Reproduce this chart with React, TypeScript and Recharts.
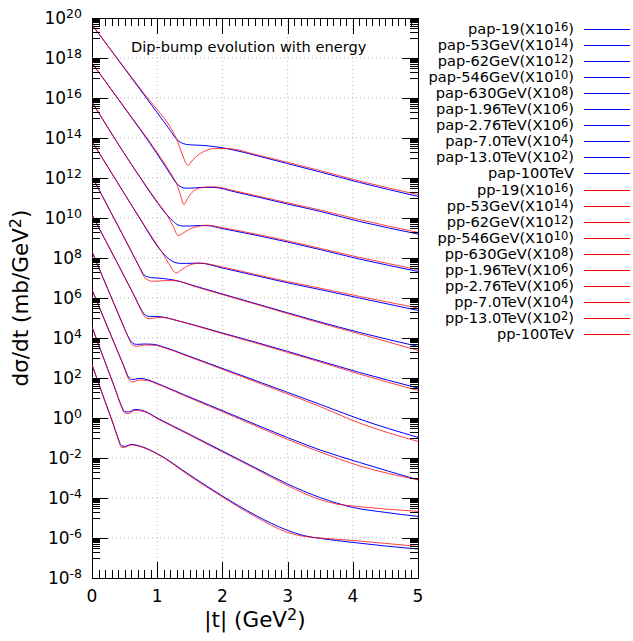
import React from 'react';
import { LineChart, Line, XAxis, YAxis, ReferenceLine, ReferenceArea } from 'recharts';

const W = 633;
const H = 641;
const PLOT = { left: 92, top: 18, width: 326, height: 560 };
const FONT = '"DejaVu Sans", Verdana, sans-serif';
const BLUE = '#0000ff';
const RED = '#ff0000';

// beam energies and the power of ten each pair was shifted by
const energies = ['19', '53GeV', '62GeV', '546GeV', '630GeV', '1.96TeV', '2.76TeV', '7.0TeV', '13.0TeV', '100TeV'];
const factors = ['16', '14', '12', '10', '8', '6', '6', '4', '2', ''];

// y values are log10(dσ/dt); pap = antiproton-proton, pp = proton-proton
const t19 = [0, 0.5, 0.8, 1.0, 1.2, 1.3, 1.4, 1.47, 1.55, 1.7, 1.9, 2.1, 2.5, 3.0, 3.5, 4.1, 5.0];
const pap19 = [19.67, 17.47, 16.15, 15.27, 14.38, 13.93, 13.72, 13.67, 13.65, 13.63, 13.56, 13.45, 13.14, 12.72, 12.3, 11.78, 11.08];
const pp19 = [19.67, 17.5, 16.22, 15.42, 14.55, 13.92, 13.05, 12.63, 12.92, 13.3, 13.48, 13.47, 13.18, 12.78, 12.37, 11.85, 11.17];

const t53 = [0, 0.5, 1.0, 1.2, 1.3, 1.35, 1.41, 1.47, 1.55, 1.7, 1.86, 2.2, 2.5, 3.0, 3.5, 4.1, 5.0];
const pap53 = [17.75, 15.5, 13.2, 12.2, 11.72, 11.58, 11.5, 11.49, 11.5, 11.53, 11.53, 11.3, 11.08, 10.7, 10.33, 9.83, 9.2];
const pp53 = [17.75, 15.52, 13.27, 12.27, 11.7, 11.22, 10.67, 11.0, 11.33, 11.53, 11.56, 11.35, 11.13, 10.76, 10.4, 9.92, 9.28];

const t62 = [0, 0.5, 0.8, 1.0, 1.15, 1.25, 1.32, 1.4, 1.5, 1.6, 1.76, 2.0, 2.5, 3.0, 3.5, 4.1, 5.0];
const pap62 = [15.8, 13.2, 11.72, 10.78, 10.15, 9.82, 9.65, 9.6, 9.6, 9.62, 9.62, 9.47, 9.15, 8.8, 8.42, 7.95, 7.33];
const pp62 = [15.8, 13.2, 11.75, 10.82, 10.15, 9.55, 9.12, 9.25, 9.45, 9.56, 9.64, 9.52, 9.2, 8.86, 8.48, 8.03, 7.42];

const t546 = [0, 0.5, 0.8, 1.0, 1.1, 1.2, 1.29, 1.36, 1.45, 1.55, 1.65, 2.0, 2.5, 3.0, 3.5, 4.1, 5.0];
const pap546 = [13.83, 11.2, 9.62, 8.6, 8.2, 7.9, 7.76, 7.73, 7.73, 7.74, 7.74, 7.5, 7.13, 6.76, 6.42, 6.0, 5.38];
const pp546 = [13.83, 11.2, 9.65, 8.65, 8.15, 7.6, 7.25, 7.38, 7.58, 7.7, 7.75, 7.55, 7.18, 6.82, 6.49, 6.08, 5.5];

const t630 = [0, 0.4, 0.6, 0.7, 0.76, 0.8, 0.86, 0.91, 1.0, 1.1, 1.25, 1.6, 2.0, 2.5, 3.0, 3.5, 4.1, 5.0];
const pap630 = [12.08, 9.6, 8.35, 7.72, 7.35, 7.15, 7.05, 7.02, 7.0, 6.97, 6.9, 6.58, 6.2, 5.73, 5.26, 4.8, 4.28, 3.58];
const pp630 = [12.08, 9.6, 8.35, 7.72, 7.3, 7.05, 6.9, 6.84, 6.84, 6.87, 6.87, 6.55, 6.17, 5.7, 5.22, 4.75, 4.21, 3.38];

const t196 = [0, 0.3, 0.5, 0.65, 0.75, 0.8, 0.88, 1.0, 1.1, 1.25, 1.6, 2.0, 2.5, 3.0, 3.5, 4.1, 5.0];
const pap196 = [10.17, 8.3, 7.05, 6.1, 5.45, 5.2, 5.08, 5.08, 5.04, 4.92, 4.62, 4.25, 3.8, 3.33, 2.85, 2.28, 1.5];
const pp196 = [10.17, 8.3, 7.05, 6.1, 5.4, 5.1, 4.96, 5.02, 5.02, 4.92, 4.6, 4.22, 3.76, 3.28, 2.8, 2.2, 1.38];

const t276 = [0, 0.3, 0.45, 0.55, 0.62, 0.68, 0.8, 0.95, 1.1, 1.4, 1.8, 2.2, 2.6, 3.0, 3.5, 4.1, 5.0];
const pap276 = [8.33, 6.0, 4.85, 4.1, 3.75, 3.68, 3.7, 3.68, 3.55, 3.2, 2.72, 2.24, 1.76, 1.28, 0.68, -0.05, -0.97];
const pp276 = [8.33, 6.0, 4.85, 4.08, 3.65, 3.58, 3.65, 3.64, 3.52, 3.17, 2.68, 2.19, 1.7, 1.2, 0.57, -0.25, -1.17];

const t7 = [0, 0.25, 0.4, 0.5, 0.56, 0.62, 0.72, 0.85, 1.0, 1.4, 1.8, 2.2, 2.6, 3.0, 3.5, 4.1, 5.0];
const pap7 = [6.42, 4.45, 3.28, 2.5, 2.05, 1.92, 1.98, 1.92, 1.73, 1.18, 0.64, 0.1, -0.45, -0.98, -1.6, -2.22, -3.09];
const pp7 = [6.42, 4.45, 3.28, 2.48, 1.95, 1.8, 1.9, 1.87, 1.7, 1.14, 0.59, 0.04, -0.52, -1.07, -1.7, -2.39, -3.09];

const t13 = [0, 0.2, 0.35, 0.45, 0.5, 0.56, 0.66, 0.8, 1.0, 1.5, 2.0, 2.5, 3.0, 3.5, 3.75, 4.0, 4.5, 5.0];
const pap13 = [4.55, 2.8, 1.5, 0.62, 0.33, 0.3, 0.43, 0.35, 0.0, -0.82, -1.65, -2.48, -3.3, -3.98, -4.25, -4.47, -4.72, -4.92];
const pp13 = [4.55, 2.8, 1.5, 0.57, 0.25, 0.22, 0.38, 0.32, -0.03, -0.86, -1.7, -2.53, -3.38, -4.08, -4.3, -4.4, -4.55, -4.67];

const t100 = [0, 0.2, 0.32, 0.4, 0.45, 0.5, 0.6, 0.75, 1.0, 1.5, 2.0, 2.5, 3.0, 3.25, 3.5, 4.0, 4.5, 5.0];
const pap100 = [2.67, 0.83, -0.25, -1.0, -1.38, -1.42, -1.32, -1.42, -1.78, -2.85, -3.9, -4.85, -5.62, -5.88, -6.02, -6.22, -6.4, -6.55];
const pp100 = [2.67, 0.83, -0.25, -1.05, -1.47, -1.47, -1.35, -1.44, -1.8, -2.9, -3.95, -4.92, -5.72, -5.92, -6.0, -6.12, -6.27, -6.42];

// tick values (exponents for y)
const yMajor = [-8, -6, -4, -2, 0, 2, 4, 6, 8, 10, 12, 14, 16, 18, 20];
const xMajor = [0, 1, 2, 3, 4, 5];
const decadeSteps = [0, 0.301, 0.477, 0.602, 0.699, 0.778, 0.845, 0.903, 0.954];

const yMinor = yMajor.slice(0, -1).flatMap((m) => decadeSteps.map((s) => m + 1 + s));
const xMinor = xMajor.slice(0, -1).flatMap((m) => [1, 2, 3, 4, 5, 6, 7, 8, 9].map((k) => m + k / 10));

const X_DOM = [0, 5];
const Y_DOM = [-8, 20];

// pixel position of a tick, for the inward tick marks drawn on top of the frame
const xPix = (v: number) => PLOT.left + ((v - X_DOM[0]) / (X_DOM[1] - X_DOM[0])) * PLOT.width;
const yPix = (v: number) => PLOT.top + ((Y_DOM[1] - v) / (Y_DOM[1] - Y_DOM[0])) * PLOT.height;

const series = [
  [t19, pap19, pp19],
  [t53, pap53, pp53],
  [t62, pap62, pp62],
  [t546, pap546, pp546],
  [t630, pap630, pp630],
  [t196, pap196, pp196],
  [t276, pap276, pp276],
  [t7, pap7, pp7],
  [t13, pap13, pp13],
  [t100, pap100, pp100],
].map(([t, pap, pp]) => t.map((x, i) => ({ t: x, pap: pap[i], pp: pp[i] })));

function tickPath(): string {
  const right = PLOT.left + PLOT.width;
  const bottom = PLOT.top + PLOT.height;
  let d = '';
  yMajor.forEach((v) => {
    const y = Math.round(yPix(v)) + 0.5;
    d += `M${PLOT.left} ${y}h16M${right} ${y}h-16`;
  });
  yMinor.forEach((v) => {
    const y = Math.round(yPix(v)) + 0.5;
    d += `M${PLOT.left} ${y}h8M${right} ${y}h-8`;
  });
  xMajor.forEach((v) => {
    const x = Math.round(xPix(v)) + 0.5;
    d += `M${x} ${bottom}v-16M${x} ${PLOT.top}v16`;
  });
  xMinor.forEach((v) => {
    const x = Math.round(xPix(v)) + 0.5;
    d += `M${x} ${bottom}v-8M${x} ${PLOT.top}v8`;
  });
  return d;
}

function YLabel(props: any) {
  const { x, y, payload } = props;
  const n = Math.round(payload.value);
  return (
    <text x={x - 10} y={y + 6} textAnchor="end" fontFamily={FONT} fontSize={17} fill="#000">
      10
      <tspan dy={-6} fontSize={12.5}>
        {n}
      </tspan>
    </text>
  );
}

function XLabel(props: any) {
  const { x, y, payload } = props;
  return (
    <text x={x} y={y + 24} textAnchor="middle" fontFamily={FONT} fontSize={17} fill="#000">
      {payload.value}
    </text>
  );
}

function LegendRow({ label, factor, color, i }: { label: string; factor: string; color: string; i: number }) {
  const y = Math.round(29 + i * 16.05);
  return (
    <g>
      <text x={574} y={y + 5} textAnchor="end" fontFamily={FONT} fontSize={14.6} fill="#000">
        {label}
        {factor && (
          <>
            (X10
            <tspan dy={-3} fontSize={11.5}>
              {factor}
            </tspan>
            <tspan dy={3}>)</tspan>
          </>
        )}
      </text>
      <rect x={584} y={y} width={46} height={1} fill={color} />
    </g>
  );
}

export default function App() {
  const rows = [
    ...energies.map((e, i) => ({ label: 'pap-' + e, factor: factors[i], color: BLUE })),
    ...energies.map((e, i) => ({ label: 'pp-' + e, factor: factors[i], color: RED })),
  ];
  return (
    <div style={{ position: 'absolute', left: 0, top: 0, width: W, height: H, background: '#fff' }}>
      <LineChart
        width={W}
        height={H}
        margin={{ top: PLOT.top, right: W - PLOT.left - PLOT.width, bottom: H - PLOT.top - PLOT.height - 40, left: 0 }}
      >
        <XAxis
          dataKey="t"
          type="number"
          domain={X_DOM}
          allowDataOverflow
          ticks={xMajor}
          interval={0}
          tick={<XLabel />}
          tickSize={0}
          tickMargin={0}
          tickLine={false}
          axisLine={false}
          height={40}
        />
        <YAxis
          type="number"
          domain={Y_DOM}
          allowDataOverflow
          ticks={yMajor}
          interval={0}
          tick={<YLabel />}
          tickSize={0}
          tickMargin={0}
          tickLine={false}
          axisLine={false}
          width={PLOT.left}
        />
        {yMajor.slice(1, -1).map((v) => (
          <ReferenceLine key={'gy' + v} y={v} stroke="#b4b4b4" strokeDasharray="1 3" />
        ))}
        {xMajor.slice(1, -1).map((v) => (
          <ReferenceLine key={'gx' + v} x={v} stroke="#b4b4b4" strokeDasharray="1 3" />
        ))}
        {series.map((d, i) => (
          <Line
            key={'pap' + i}
            data={d}
            dataKey="pap"
            name={'pap-' + energies[i]}
            type="monotone"
            stroke={BLUE}
            strokeWidth={1}
            dot={false}
            activeDot={false}
            isAnimationActive={false}
          />
        ))}
        {series.map((d, i) => (
          <Line
            key={'pp' + i}
            data={d}
            dataKey="pp"
            name={'pp-' + energies[i]}
            type="monotone"
            stroke={RED}
            strokeOpacity={0.75}
            strokeWidth={1}
            dot={false}
            activeDot={false}
            isAnimationActive={false}
          />
        ))}
        <ReferenceArea x1={0} x2={5} y1={-8} y2={20} fill="none" stroke="#000" strokeWidth={1} shapeRendering="crispEdges" />
      </LineChart>
      <svg width={W} height={H} style={{ position: 'absolute', left: 0, top: 0, pointerEvents: 'none' }}>
        <text x={131} y={52} fontFamily={FONT} fontSize={14.6} fill="#000">
          Dip-bump evolution with energy
        </text>
        <text x={255} y={627} textAnchor="middle" fontFamily={FONT} fontSize={21.5} fill="#000">
          |t| (GeV
          <tspan dy={-7} fontSize={16}>
            2
          </tspan>
          <tspan dy={7}>)</tspan>
        </text>
        <text transform="translate(28,298) rotate(-90)" textAnchor="middle" fontFamily={FONT} fontSize={21.5} fill="#000">
          dσ/dt (mb/GeV
          <tspan dy={-7} fontSize={16}>
            2
          </tspan>
          <tspan dy={7}>)</tspan>
        </text>
        {rows.map((r, i) => (
          <LegendRow key={r.label} label={r.label} factor={r.factor} color={r.color} i={i} />
        ))}
      </svg>
      <svg width={W} height={H} style={{ position: 'absolute', left: 0, top: 0, pointerEvents: 'none', zIndex: 5 }}>
        <path d={tickPath()} stroke="#000" strokeWidth={1} fill="none" />
      </svg>
    </div>
  );
}
